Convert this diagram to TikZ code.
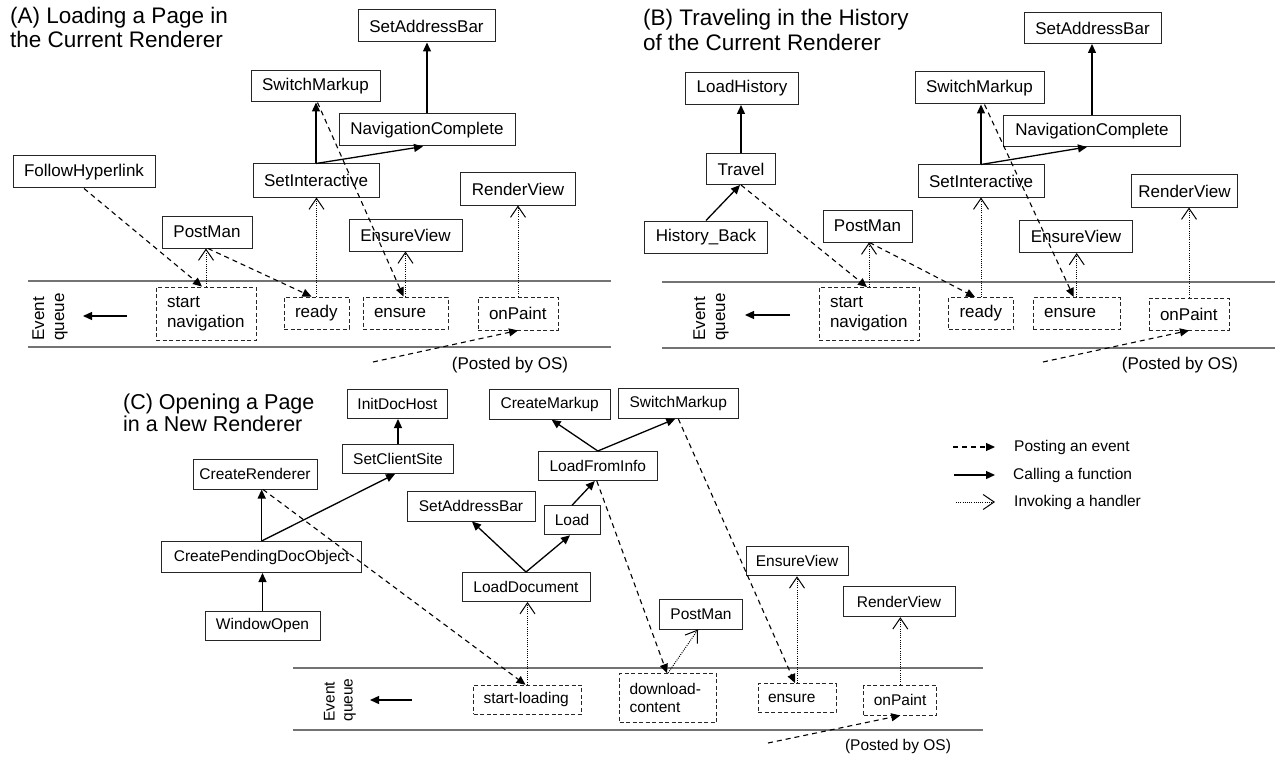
\documentclass[tikz,border=0pt]{standalone}
\usepackage{fontspec}
\setmainfont{Liberation Sans}
\usetikzlibrary{arrows.meta,calc}
\newcommand{\fA}{\fontsize{17}{20}\selectfont}
\newcommand{\fC}{\fontsize{15.5}{18}\selectfont}
\newcommand{\fT}{\fontsize{22.5}{25}\selectfont}
\newcommand{\fTc}{\fontsize{21.5}{23}\selectfont}
\begin{document}
\begin{tikzpicture}[x=1pt,y=-1pt,
 fbox/.style={draw=black!85, line width=1pt, inner sep=0pt, font=\fA},
 fboxc/.style={fbox, font=\fC},
 evbox/.style={draw=black!85, line width=0.9pt, dash pattern=on 4pt off 2.5pt, inner xsep=11pt, inner ysep=0pt, align=left, font=\fA},
 evboxc/.style={evbox, inner xsep=10pt, font=\fC},
 qline/.style={draw=black!55, line width=1.6pt},
 call/.style={draw, line width=1.3pt, -{Triangle[length=9pt,width=8pt]}},
 post/.style={draw, line width=1.1pt, dash pattern=on 5pt off 4pt, -{Triangle[length=9pt,width=8pt]}},
 handler/.style={draw, line width=1pt, dash pattern=on 1pt off 1.2pt, -{Straight Barb[length=11pt,width=15pt,line width=1pt]}},
 title/.style={anchor=base west, inner sep=0pt, font=\fT},
 titlec/.style={anchor=base west, inner sep=0pt, font=\fTc},
 plain/.style={inner sep=0pt, font=\fA},
 plainc/.style={inner sep=0pt, font=\fC},
 eq/.style={font=\fA, rotate=90, align=left, inner sep=0pt},
 ]
\useasboundingbox (0,0) rectangle (1275,757);

% ================= Panel A =================
\node[title] (tA1) at (10,23.5) {(A) Loading a Page in};
\node[title] (tA2) at (10,48) {the Current Renderer};

\node[fbox, minimum width=142pt, minimum height=32pt] (folA) at (84,172) {FollowHyperlink};
\node[fbox, minimum width=129pt, minimum height=31pt] (switchA) at (315.5,86.5) {SwitchMarkup};
\node[fbox, minimum width=126pt, minimum height=33pt] (setintA) at (316,180.5) {SetInteractive};
\node[fbox, minimum width=137pt, minimum height=32pt] (setaddrA) at (426.5,26) {SetAddressBar};
\node[fbox, minimum width=176pt, minimum height=32pt] (navA) at (427,130) {NavigationComplete};
\node[fbox, minimum width=115pt, minimum height=32pt] (renderA) at (518,189) {RenderView};
\node[fbox, minimum width=90pt, minimum height=32pt] (postmanA) at (207,232) {PostMan};
\node[fbox, minimum width=113pt, minimum height=32pt] (ensviewA) at (405.5,235) {EnsureView};

\draw[qline] (28,281) coordinate (qAt1) -- (611,281) coordinate (qAt2);
\draw[qline] (28,347) coordinate (qAb1) -- (611,347) coordinate (qAb2);
\node[eq] (eqA) at (50,317) {Event\\queue};
\coordinate (qA1) at (127,316);
\coordinate (qA2) at (83,316);
\draw[call] (qA1) -- (qA2);

\node[evbox, text width=78pt, minimum height=53pt] (startA) at (206,313.5) {start\\navigation};
\node[evbox, text width=43pt, minimum height=32pt] (readyA) at (316.5,313) {ready};
\node[evbox, text width=63pt, minimum height=32pt] (ensureA) at (405.5,313) {ensure};
\node[evbox, text width=58pt, minimum height=33pt] (onpaintA) at (518,313.5) {onPaint};
\node[plain] (osA) at (510,365) {(Posted by OS)};
\coordinate (osAstart) at (373,362);

\draw[post] (folA.south) -- ([xshift=-4pt]startA.north);
\draw[handler] (startA.north) -- (startA.north |- postmanA.south);
\draw[post] ([xshift=1pt]postmanA.south) -- ([xshift=-5pt]readyA.north);
\draw[handler] (readyA.north) -- (readyA.north |- setintA.south);
\draw[call] (setintA.north) -- (setintA.north |- switchA.south);
\draw[call] (setintA.north) -- ([xshift=-4pt]navA.south);
\draw[call] (navA.north) -- (navA.north |- setaddrA.south);
\draw[post] ([xshift=2pt]switchA.south) -- ([xshift=-2pt]ensureA.north);
\draw[handler] (ensureA.north) -- (ensureA.north |- ensviewA.south);
\draw[handler] (onpaintA.north) -- (onpaintA.north |- renderA.south);
\draw[post] (osAstart) -- (onpaintA.south);

% ================= Panel B =================
\node[title] (tB1) at (643,26) {(B) Traveling in the History};
\node[title] (tB2) at (643,50.5) {of the Current Renderer};

\node[fbox, minimum width=113pt, minimum height=32pt] (loadhistB) at (742,88.5) {LoadHistory};
\node[fbox, minimum width=69pt, minimum height=31pt] (travelB) at (741,169) {Travel};
\node[fbox, minimum width=123pt, minimum height=32pt] (histB) at (706,237) {History\_Back};
\node[fbox, minimum width=89pt, minimum height=32pt] (postmanB) at (867.5,226) {PostMan};
\node[fbox, minimum width=129pt, minimum height=32pt] (switchB) at (979.5,88) {SwitchMarkup};
\node[fbox, minimum width=126pt, minimum height=32pt] (setintB) at (981,181) {SetInteractive};
\node[fbox, minimum width=137pt, minimum height=31pt] (setaddrB) at (1092.5,28) {SetAddressBar};
\node[fbox, minimum width=177pt, minimum height=31pt] (navB) at (1092,131) {NavigationComplete};
\node[fbox, minimum width=106pt, minimum height=32pt] (renderB) at (1184.5,191) {RenderView};
\node[fbox, minimum width=113pt, minimum height=32pt] (ensviewB) at (1076,236.5) {EnsureView};

\draw[qline] (662,282) coordinate (qBt1) -- (1275,282) coordinate (qBt2);
\draw[qline] (662,348) coordinate (qBb1) -- (1275,348) coordinate (qBb2);
\node[eq] (eqB) at (711,317) {Event\\queue};
\coordinate (qB1) at (790,315);
\coordinate (qB2) at (745,315);
\draw[call] (qB1) -- (qB2);

\node[evbox, text width=78pt, minimum height=53pt] (startB) at (869,314) {start\\navigation};
\node[evbox, text width=43pt, minimum height=32pt] (readyB) at (981,313.5) {ready};
\node[evbox, text width=65pt, minimum height=32pt] (ensureB) at (1076.7,313.5) {ensure};
\node[evbox, text width=58pt, minimum height=32pt] (onpaintB) at (1189,314) {onPaint};
\node[plain] (osB) at (1180,365) {(Posted by OS)};
\coordinate (osBstart) at (1043,362);

\draw[call] (histB.north) -- ([xshift=-1pt]travelB.south);
\draw[call] (travelB.north) -- (travelB.north |- loadhistB.south);
\draw[post] (travelB.south) -- ([xshift=-2pt]startB.north);
\draw[handler] (startB.north) -- (startB.north |- postmanB.south);
\draw[post] ([xshift=2pt]postmanB.south) -- ([xshift=-6pt]readyB.north);
\draw[handler] (readyB.north) -- (readyB.north |- setintB.south);
\draw[call] (setintB.north) -- (setintB.north |- switchB.south);
\draw[call] (setintB.north) -- ([xshift=-5pt]navB.south);
\draw[call] (navB.north) -- (navB.north |- setaddrB.south);
\draw[post] ([xshift=5pt]switchB.south) -- ([xshift=-3pt]ensureB.north);
\draw[handler] (ensureB.north) -- (ensureB.north |- ensviewB.south);
\draw[handler] (onpaintB.north) -- (onpaintB.north |- renderB.south);
\draw[post] (osBstart) -- (onpaintB.south);

% ================= Panel C =================
\node[titlec] (tC1) at (123,409) {(C) Opening a Page};
\node[titlec] (tC2) at (123,431) {in a New Renderer};

\node[fboxc, minimum width=100pt, minimum height=29pt] (initC) at (397.5,404) {InitDocHost};
\node[fboxc, minimum width=111pt, minimum height=29pt] (scsC) at (398,459) {SetClientSite};
\node[fboxc, minimum width=124pt, minimum height=30pt] (crC) at (255,474) {CreateRenderer};
\node[fboxc, minimum width=200pt, minimum height=31pt] (cpdoC) at (261.7,557) {CreatePendingDocObject};
\node[fboxc, minimum width=115pt, minimum height=29pt] (windowC) at (262.5,625.5) {WindowOpen};
\node[fboxc, minimum width=121pt, minimum height=30pt] (crmC) at (549.7,404.3) {CreateMarkup};
\node[fboxc, minimum width=120pt, minimum height=30pt] (swC) at (678.3,403.3) {SwitchMarkup};
\node[fboxc, minimum width=119pt, minimum height=29pt] (lfiC) at (597.8,466) {LoadFromInfo};
\node[fboxc, minimum width=128pt, minimum height=30pt] (setaddrC) at (471,506) {SetAddressBar};
\node[fboxc, minimum width=56pt, minimum height=29pt] (loadC) at (572,520.3) {Load};
\node[fboxc, minimum width=128pt, minimum height=29pt] (loaddocC) at (526,587) {LoadDocument};
\node[fboxc, minimum width=83pt, minimum height=30pt] (postmanC) at (701,614) {PostMan};
\node[fboxc, minimum width=102pt, minimum height=29pt] (ensviewC) at (797,561.3) {EnsureView};
\node[fboxc, minimum width=112pt, minimum height=30pt] (renderC) at (899,601.7) {RenderView};

\draw[qline] (293,668) coordinate (qCt1) -- (983,668) coordinate (qCt2);
\draw[qline] (293,730) coordinate (qCb1) -- (983,730) coordinate (qCb2);
\node[eq, font=\fC] (eqC) at (340,700) {Event\\queue};
\coordinate (qC1) at (411.7,700);
\coordinate (qC2) at (370,700);
\draw[call] (qC1) -- (qC2);

\node[evboxc, text width=88pt, minimum height=29pt] (startldC) at (527.5,699.7) {start-loading};
\node[evboxc, text width=77pt, minimum height=49pt] (dlC) at (668,698) {download-\\content};
\node[evboxc, text width=58pt, minimum height=29pt] (ensureC) at (797,698) {ensure};
\node[evboxc, text width=53pt, minimum height=30pt] (onpaintC) at (900.3,700) {onPaint};
\node[plainc] (osC) at (898,746) {(Posted by OS)};
\coordinate (osCstart) at (768,743);

\draw[call] (windowC.north) -- (windowC.north |- cpdoC.south);
\draw[call] (cpdoC.north) -- (cpdoC.north |- crC.south);
\draw[call] (cpdoC.north) -- ([xshift=-3pt]scsC.south);
\draw[call] (scsC.north) -- (scsC.north |- initC.south);
\draw[post] ([xshift=8pt]crC.south) -- ([xshift=-2pt]startldC.north);
\draw[handler] (startldC.north) -- (startldC.north |- loaddocC.south);
\draw[call] (loaddocC.north) -- ([xshift=1pt]setaddrC.south);
\draw[call] (loaddocC.north) -- ([xshift=-2pt]loadC.south);
\draw[call] (loadC.north) -- ([xshift=-3pt]lfiC.south);
\draw[call] (lfiC.north) -- ([xshift=2pt]crmC.south);
\draw[call] (lfiC.north) -- ([xshift=-3pt]swC.south);
\draw[post] ([xshift=-1pt]lfiC.south) -- ([xshift=-1pt]dlC.north);
\draw[handler] (dlC.north) -- ([xshift=-3pt]postmanC.south);
\draw[post] (swC.south) -- ([xshift=-2pt]ensureC.north);
\draw[handler] (ensureC.north) -- (ensureC.north |- ensviewC.south);
\draw[handler] (onpaintC.north) -- (onpaintC.north |- renderC.south);
\draw[post] (osCstart) -- (onpaintC.south);

% ================= Legend =================
\coordinate (lg1a) at (953,447); \coordinate (lg1b) at (995,447);
\coordinate (lg2a) at (954,475); \coordinate (lg2b) at (995,475);
\coordinate (lg3a) at (956,502); \coordinate (lg3b) at (995,502);
\draw[post] (lg1a) -- (lg1b);
\draw[call] (lg2a) -- (lg2b);
\draw[handler] (lg3a) -- (lg3b);
\node[plainc, anchor=west] (lgt1) at (1014,447) {Posting an event};
\node[plainc, anchor=west] (lgt2) at (1013,475) {Calling a function};
\node[plainc, anchor=west] (lgt3) at (1014,502) {Invoking a handler};
\end{tikzpicture}
\end{document}
